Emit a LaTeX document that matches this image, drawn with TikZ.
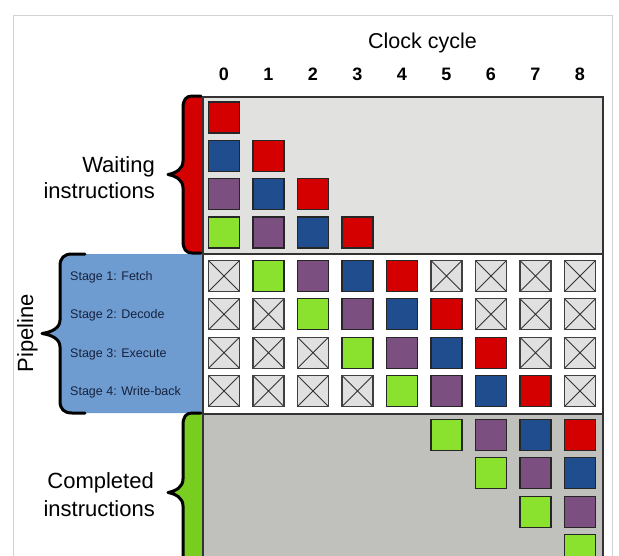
\documentclass[tikz,border=0pt]{standalone}
\usepackage{fontspec}
\setmainfont{Liberation Sans}
\definecolor{cRed}{RGB}{212,0,0}
\definecolor{cBlue}{RGB}{31,77,142}
\definecolor{cPurple}{RGB}{123,80,128}
\definecolor{cGreen}{RGB}{138,226,46}
\definecolor{waitbg}{RGB}{225,226,223}
\definecolor{donebg}{RGB}{192,193,189}
\definecolor{xbg}{RGB}{224,224,224}
\definecolor{pipeblue}{RGB}{110,156,208}
\definecolor{bracegreen}{RGB}{120,205,32}
\definecolor{stagetext}{RGB}{22,34,62}
\definecolor{framegray}{RGB}{210,210,210}
\begin{document}
\begin{tikzpicture}[x=1pt,y=-1pt,
  sq/.style={draw=black!85, line width=1.2pt, minimum size=31pt, inner sep=0pt, outer sep=0pt},
  xcell/.style={sq, fill=xbg, draw=black!75, path picture={\draw[black!80,line width=0.9pt] (path picture bounding box.north west)--(path picture bounding box.south east) (path picture bounding box.north east)--(path picture bounding box.south west);}},
  panel/.style={draw=black!80, line width=1.5pt, anchor=north west, inner sep=0pt, minimum width=400pt},
  brace/.style={line width=3pt, line cap=round, line join=round},
  big/.style={font=\fontsize{22}{26}\selectfont, inner sep=0pt},
  num/.style={font=\bfseries\fontsize{18}{22}\selectfont, anchor=base, inner sep=0pt},
  stage/.style={font=\fontsize{12.5}{15}\selectfont, text=stagetext, anchor=base west, inner sep=0pt}
]
\useasboundingbox (0,0) rectangle (619,555);
\clip (0,0) rectangle (619,555);
\fill[white] (0,0) rectangle (619,555);
\draw[framegray, line width=1pt] (13,570) -- (13,15) -- (612,15) -- (612,570);

% braces (fills)
\fill[cRed] (202,96) -- (192,96) .. controls (186,96) and (183,100) .. (183,108) -- (183,161) .. controls (183,169) and (176,173) .. (168,174.5) .. controls (176,176) and (183,180) .. (183,188) -- (183,241) .. controls (183,249) and (186,253) .. (192,253) -- (202,253) -- cycle;
\fill[pipeblue] (202,254) -- (72,254) .. controls (64,254) and (60,258) .. (60,266) -- (60,320) .. controls (60,328) and (52,332) .. (42,333.5) .. controls (52,335) and (60,339) .. (60,347) -- (60,401) .. controls (60,409) and (64,413) .. (72,413) -- (202,413) -- cycle;
\fill[bracegreen] (202,413) -- (192,413) .. controls (186,413) and (183,417) .. (183,425) -- (183,479) .. controls (183,487) and (176,491) .. (168,492.5) .. controls (176,494) and (183,498) .. (183,506) -- (183,560) .. controls (183,568) and (186,572) .. (192,572) -- (202,572) -- cycle;

% brace outlines
\draw[brace] (201,96) -- (192,96) .. controls (186,96) and (183,100) .. (183,108) -- (183,161) .. controls (183,169) and (176,173) .. (168,174.5) .. controls (176,176) and (183,180) .. (183,188) -- (183,241) .. controls (183,249) and (186,253) .. (192,253) -- (201,253);
\draw[brace] (85,254) -- (72,254) .. controls (64,254) and (60,258) .. (60,266) -- (60,320) .. controls (60,328) and (52,332) .. (42,333.5) .. controls (52,335) and (60,339) .. (60,347) -- (60,401) .. controls (60,409) and (64,413) .. (72,413) -- (85,413);
\draw[brace] (201,413) -- (192,413) .. controls (186,413) and (183,417) .. (183,425) -- (183,479) .. controls (183,487) and (176,491) .. (168,492.5) .. controls (176,494) and (183,498) .. (183,506) -- (183,560) .. controls (183,568) and (186,572) .. (192,572) -- (201,572);

% panels
\node[panel, fill=waitbg, minimum height=157pt] (waiting) at (202,96) {};
\node[panel, fill=white, minimum height=160pt] (pipe) at (202,253) {};
\node[panel, fill=donebg, minimum height=170pt] (done) at (202,413) {};

% header
\node[font=\fontsize{21.5}{26}\selectfont, anchor=base, inner sep=0pt] (clock) at (422.5,48) {Clock cycle};
\foreach \c in {0,...,8} \node[num] (n\c) at ({224+44.5*\c},80) {\c};

% waiting instructions
\foreach \c/\r/\col in {0/0/cRed,0/1/cBlue,0/2/cPurple,0/3/cGreen,1/1/cRed,1/2/cBlue,1/3/cPurple,2/2/cRed,2/3/cBlue,3/3/cRed}
  \node[sq, fill=\col] (w\c\r) at ({224+44.5*\c},{117.5+38.33*\r}) {};

% pipeline
\foreach \c/\r/\col in {1/0/cGreen,2/0/cPurple,3/0/cBlue,4/0/cRed,2/1/cGreen,3/1/cPurple,4/1/cBlue,5/1/cRed,3/2/cGreen,4/2/cPurple,5/2/cBlue,6/2/cRed,4/3/cGreen,5/3/cPurple,6/3/cBlue,7/3/cRed}
  \node[sq, fill=\col] (p\c\r) at ({224+44.5*\c},{276+38.33*\r}) {};
\foreach \c/\r in {0/0,5/0,6/0,7/0,8/0,0/1,1/1,6/1,7/1,8/1,0/2,1/2,2/2,7/2,8/2,0/3,1/3,2/3,3/3,8/3}
  \node[xcell] (p\c\r) at ({224+44.5*\c},{276+38.33*\r}) {};

% completed
\foreach \c/\r/\col in {5/0/cGreen,6/0/cPurple,7/0/cBlue,8/0/cRed,6/1/cGreen,7/1/cPurple,8/1/cBlue,7/2/cGreen,8/2/cPurple,8/3/cGreen}
  \node[sq, fill=\col] (d\c\r) at ({224+44.5*\c},{435+38.33*\r}) {};

% labels
\node[big, anchor=base east] (wait1) at (155,172) {Waiting};
\node[big, anchor=base east] (wait2) at (155,198) {instructions};
\node[big, anchor=base east] (comp1) at (154,488) {Completed};
\node[big, anchor=base east] (comp2) at (155,516) {instructions};
\node[big, rotate=90, anchor=base] (pipel) at (33,333) {Pipeline};
\node[stage] (s1) at (70,280.5) {Stage 1: Fetch};
\node[stage] (s2) at (70,318.8) {Stage 2: Decode};
\node[stage] (s3) at (70,357.2) {Stage 3: Execute};
\node[stage] (s4) at (70,395.5) {Stage 4: Write-back};
\end{tikzpicture}
\end{document}
